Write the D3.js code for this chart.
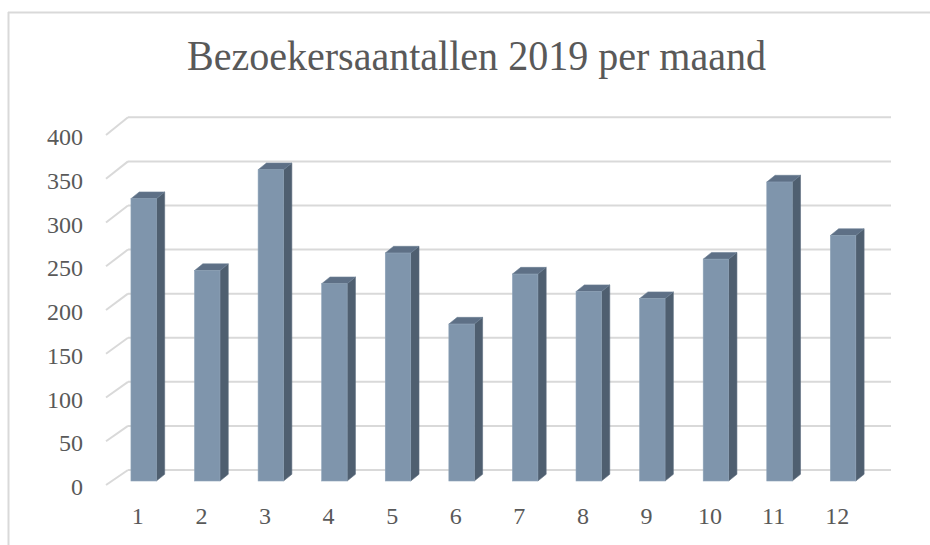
<!DOCTYPE html>
<html>
<head>
<meta charset="utf-8">
<script src="https://cdn.jsdelivr.net/npm/d3@7"></script>
<style>
  html, body { margin: 0; padding: 0; background: #fff; }
  svg { display: block; }
  text { font-family: "Liberation Serif", "DejaVu Serif", serif; fill: #595959; }
</style>
</head>
<body>
<svg id="chart" width="930" height="545"></svg>
<script>
// ---- data ----
const title = "Bezoekersaantallen 2019 per maand";
const months = ["1", "2", "3", "4", "5", "6", "7", "8", "9", "10", "11", "12"];
const visitors = [322, 240, 355, 225, 260, 179, 236, 216, 208, 253, 341, 280];
const yTicks = [0, 50, 100, 150, 200, 250, 300, 350, 400];

// ---- layout ----
const svg = d3.select("#chart");

// chart frame
svg.append("line").attr("x1", 8).attr("x2", 930).attr("y1", 12.5).attr("y2", 12.5)
  .attr("stroke", "#d9d9d9").attr("stroke-width", 2);
svg.append("line").attr("x1", 8.5).attr("x2", 8.5).attr("y1", 12).attr("y2", 545)
  .attr("stroke", "#d9d9d9").attr("stroke-width", 2);

// title
svg.append("text").attr("x", 476.5).attr("y", 70).attr("text-anchor", "middle")
  .attr("textLength", 579).attr("lengthAdjust", "spacingAndGlyphs")
  .style("font-size", "42px").text(title);

// 3D geometry
const depthX = 22;
const yBack = d3.scaleLinear().domain([0, 400]).range([470, 117.3]);
const yFront = d3.scaleLinear().domain([0, 400]).range([485, 135]);
const xFront = d3.scaleBand().domain(months).range([106, 869]);
const backLeft = 128, backRight = 891;

// gridlines (back wall + side wall)
const grid = svg.append("g").attr("stroke", "#d9d9d9").attr("stroke-width", 2).attr("fill", "none");
yTicks.forEach(v => {
  grid.append("line").attr("x1", backLeft).attr("x2", backRight)
    .attr("y1", yBack(v)).attr("y2", yBack(v));
  grid.append("line").attr("x1", backLeft - depthX).attr("y1", yFront(v))
    .attr("x2", backLeft).attr("y2", yBack(v));
});

// bars
const t = 0.267; // bar front position as fraction of floor depth
const yBar = v => yFront(v) * (1 - t) + yBack(v) * t;
const barW = xFront.bandwidth() * 0.4;
const bdx = 8.3, bdy = 6.7;
const bars = svg.append("g");
months.forEach((m, i) => {
  const v = visitors[i];
  const x0 = xFront(m) + xFront.bandwidth() / 2 - barW / 2 + depthX * t;
  const x1 = x0 + barW;
  const yT = yBar(v), yB = yBar(0);
  const g = bars.append("g");
  g.append("polygon")
    .attr("points", [[x1, yT], [x1 + bdx, yT - bdy], [x1 + bdx, yB - bdy], [x1, yB]].join(" "))
    .attr("fill", "#4f5f70").attr("stroke", "#5c6d7f").attr("stroke-width", 0.6);
  g.append("polygon")
    .attr("points", [[x0, yT], [x0 + bdx, yT - bdy], [x1 + bdx, yT - bdy], [x1, yT]].join(" "))
    .attr("fill", "#5e7086").attr("stroke", "#6c7f94").attr("stroke-width", 0.6);
  g.append("rect").attr("x", x0).attr("y", yT).attr("width", barW).attr("height", yB - yT)
    .attr("fill", "#7f95ac").attr("stroke", "#8da2b7").attr("stroke-width", 0.6);
});

// y axis labels
const yLabel = d3.scaleLinear().domain([0, 400]).range([487, 137]);
const yAxis = svg.append("g").attr("transform", "translate(83,0)")
  .call(d3.axisLeft(yLabel).tickValues(yTicks).tickSize(0).tickPadding(0));
yAxis.select(".domain").remove();
yAxis.selectAll("text").attr("fill", "#595959").attr("x", 0).attr("text-anchor", "end")
  .style("font-size", "24px").style("font-family", '"Liberation Serif", serif');

// x axis labels
const xAxis = svg.append("g").attr("transform", "translate(0,507)")
  .call(d3.axisBottom(xFront).tickSize(0).tickPadding(0));
xAxis.select(".domain").remove();
xAxis.selectAll("text").attr("fill", "#595959").attr("text-anchor", "middle")
  .style("font-size", "24px").style("font-family", '"Liberation Serif", serif');
</script>
</body>
</html>
